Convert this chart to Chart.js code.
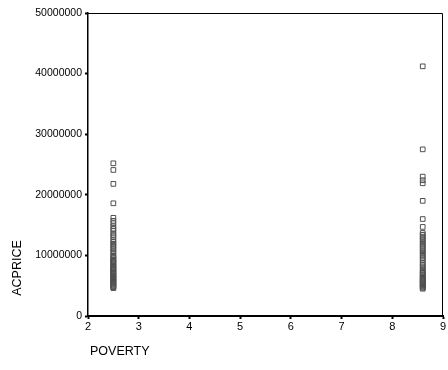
<!DOCTYPE html>
<html>
<head>
<meta charset="utf-8">
<style>
  html, body { margin: 0; padding: 0; background: #fff; }
  #wrap { width: 448px; height: 370px; }
</style>
<script src="https://cdn.jsdelivr.net/npm/chart.js@4/dist/chart.umd.min.js"></script>
</head>
<body>
<div id="wrap"><canvas id="c" width="448" height="370"></canvas></div>
<script>
// POVERTY levels of the two groups
const povertyLevels = [2.5, 8.6];

// ACPRICE observations for POVERTY = 2.5
const acpriceGroupA = [
  25200000, 24100000, 21800000, 18600000, 16200000, 15700000, 15300000, 14800000,
  14400000, 14100000, 13600000, 13300000, 13000000, 12500000, 12200000, 11900000,
  11600000, 11300000, 11000000, 10700000, 10400000, 10000000, 9750000, 9500000,
  9300000, 9100000, 8900000, 8700000, 8500000, 8300000, 8100000, 7900000,
  7750000, 7600000, 7400000, 7200000, 7050000, 6900000, 6700000, 6550000,
  6400000, 6250000, 6100000, 5950000, 5800000, 5650000, 5500000, 5350000,
  5200000, 5050000, 4900000, 4750000, 4600000
];

// ACPRICE observations for POVERTY = 8.6
const acpriceGroupB = [
  41200000, 27500000, 23000000, 22400000, 21900000, 19000000, 16000000, 14700000,
  13700000, 13400000, 13100000, 12800000, 12500000, 12200000, 11900000, 11600000,
  11300000, 11000000, 10700000, 10400000, 10100000, 9800000, 9500000, 9200000,
  8800000, 8500000, 8200000, 7900000, 7600000, 7300000, 7100000, 6900000,
  6700000, 6500000, 6300000, 6150000, 6000000, 5850000, 5700000, 5550000,
  5400000, 5250000, 5100000, 4950000, 4800000, 4650000, 4500000
];

// Axis ticks
const xTicks = [2, 3, 4, 5, 6, 7, 8, 9];
const yTicks = [0, 10000000, 20000000, 30000000, 40000000, 50000000];

const toPoints = (x, ys) => ys.map(y => ({ x: x, y: y }));

// Frame on the top and right of the plot plus the two axis titles
const framePlugin = {
  id: 'frame',
  afterDraw(chart) {
    const { ctx, chartArea: a } = chart;
    ctx.save();
    ctx.strokeStyle = '#000';
    ctx.lineWidth = 1;
    ctx.beginPath();
    ctx.moveTo(a.left, a.top + 0.5);
    ctx.lineTo(a.right - 0.5, a.top + 0.5);
    ctx.lineTo(a.right - 0.5, a.bottom);
    ctx.stroke();

    ctx.fillStyle = '#000';
    ctx.font = '12.5px "Liberation Sans", Arial, sans-serif';
    ctx.textBaseline = 'middle';
    ctx.textAlign = 'left';
    ctx.fillText('POVERTY', 90, 352);

    ctx.translate(18, 268);
    ctx.rotate(-Math.PI / 2);
    ctx.textAlign = 'center';
    ctx.fillText('ACPRICE', 0, 0);
    ctx.restore();
  }
};

const markerStyle = {
  pointStyle: 'rect',
  radius: 3.3,
  borderWidth: 1,
  borderColor: '#505050',
  backgroundColor: 'rgba(0,0,0,0)'
};

new Chart(document.getElementById('c'), {
  type: 'scatter',
  data: {
    datasets: [
      Object.assign({ label: 'POVERTY 2.5', data: toPoints(povertyLevels[0], acpriceGroupA) }, markerStyle),
      Object.assign({ label: 'POVERTY 8.6', data: toPoints(povertyLevels[1], acpriceGroupB) }, markerStyle)
    ]
  },
  options: {
    responsive: false,
    animation: false,
    events: [],
    layout: { padding: { left: 0, right: 2, top: 13, bottom: 0 } },
    plugins: {
      legend: { display: false },
      tooltip: { enabled: false }
    },
    scales: {
      x: {
        type: 'linear',
        min: 2,
        max: 9,
        afterBuildTicks(scale) { scale.ticks = xTicks.map(v => ({ value: v })); },
        afterFit(scale) { scale.height = 54; },
        grid: {
          drawOnChartArea: false,
          drawTicks: true,
          tickLength: 3,
          tickWidth: 2,
          tickColor: '#000'
        },
        border: { display: true, color: '#000', width: 2 },
        ticks: {
          color: '#000',
          padding: 1,
          maxRotation: 0,
          autoSkip: false,
          font: { family: '"Liberation Sans", Arial, sans-serif', size: 11 }
        }
      },
      y: {
        type: 'linear',
        min: 0,
        max: 50000000,
        afterBuildTicks(scale) { scale.ticks = yTicks.map(v => ({ value: v })); },
        afterFit(scale) { scale.width = 88; },
        grid: {
          drawOnChartArea: false,
          drawTicks: true,
          tickLength: 3,
          tickWidth: 2,
          tickColor: '#000'
        },
        border: { display: true, color: '#000', width: 1.5 },
        ticks: {
          color: '#000',
          padding: 3,
          autoSkip: false,
          callback: v => String(v),
          font: { family: '"Liberation Sans", Arial, sans-serif', size: 10.5 }
        }
      }
    }
  },
  plugins: [framePlugin]
});
</script>
</body>
</html>
